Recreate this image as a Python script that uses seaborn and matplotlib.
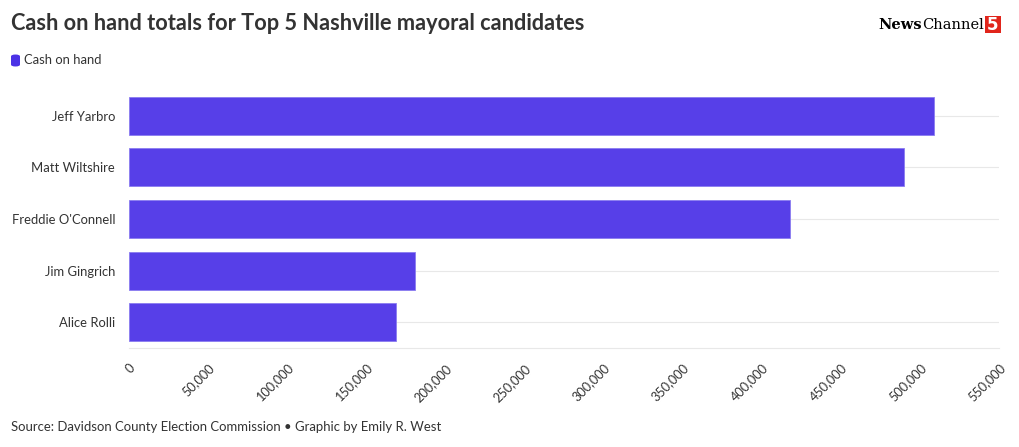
import matplotlib
matplotlib.use("Agg")
import matplotlib.pyplot as plt
import seaborn as sns
import pandas as pd
from matplotlib.patches import FancyBboxPatch, Rectangle

candidates = ["Jeff Yarbro", "Matt Wiltshire", "Freddie O'Connell", "Jim Gingrich", "Alice Rolli"]
cash_on_hand = [509000, 490000, 418000, 180500, 169000]
x_ticks = [0, 50000, 100000, 150000, 200000, 250000, 300000, 350000, 400000, 450000, 500000, 550000]
x_tick_labels = [f"{v:,}" for v in x_ticks]

df = pd.DataFrame({"candidate": candidates, "cash": cash_on_hand})

sns.set_theme(style="white")
plt.rcParams['font.family'] = ['Lato', 'DejaVu Sans']

BAR = "#573fe8"
TXT = "#333333"
GRID = "#e8e8e8"

fig = plt.figure(figsize=(10.2, 4.47), dpi=100)
ax = fig.add_axes([129/1020, 1 - 348/447, (999-129)/1020, (348-90)/447])

for i in range(len(candidates)):
    ax.axhline(i, color=GRID, lw=0.8, zorder=0)

sns.barplot(data=df, y="candidate", x="cash", orient="h", color=BAR,
            width=0.74, saturation=1, ax=ax, zorder=2, edgecolor="#8a7cf0", linewidth=0.6)

ax.set_xlim(0, 550000)
ax.set_ylim(4.5, -0.5)
ax.set_xticks(x_ticks)
ax.set_xticklabels(x_tick_labels, rotation=45, ha="right", va="top",
                   rotation_mode="anchor", fontsize=9.2, color=TXT)
ax.tick_params(axis="x", length=6, color=GRID, width=0.8, pad=4)
ax.tick_params(axis="y", length=0, pad=10, labelsize=9.4, labelcolor=TXT)
ax.set_xlabel("")
ax.set_ylabel("")
for s in ["top", "right", "left"]:
    ax.spines[s].set_visible(False)
ax.spines["bottom"].set_color(GRID)
ax.spines["bottom"].set_linewidth(0.8)

fig.text(11/1020, 1 - 24/447, "Cash on hand totals for Top 5 Nashville mayoral candidates",
         fontsize=15.7, fontweight="bold", color=TXT, va="center", ha="left")

# legend
fig.patches.append(FancyBboxPatch((11/1020, 1 - 66.5/447), 9/1020, 12/447,
                                  boxstyle="round,pad=0,rounding_size=0.0045",
                                  transform=fig.transFigure, facecolor="#4b32e6",
                                  edgecolor="none"))
fig.text(24/1020, 1 - 60.5/447, "Cash on hand", fontsize=9.4, color=TXT, va="center", ha="left")

# footer
fig.text(11/1020, 1 - 427/447, "Source: Davidson County Election Commission \u2022 Graphic by Emily R. West",
         fontsize=9.45, color=TXT, va="center", ha="left")

# logo
fig.patches.append(Rectangle((985/1020, 1 - 33/447), 16/1020, 17/447, transform=fig.transFigure,
                             facecolor="#e1251b", edgecolor="none"))
fig.text(993/1020, 1 - 24.5/447, "5", fontsize=12, fontweight="bold", family="DejaVu Sans",
         color="white", va="center", ha="center")
t_channel = fig.text(984/1020, 1 - 25/447, "Channel", fontsize=10.5, family="DejaVu Serif",
                     color="black", va="center", ha="right")
fig.canvas.draw()
bb = t_channel.get_window_extent(renderer=fig.canvas.get_renderer())
fig.text(bb.x0 / fig.bbox.width, 1 - 25/447, "News", fontsize=10.5, fontweight="bold",
         family="DejaVu Serif", color="black", va="center", ha="right")

fig.savefig("out.png", dpi=100, facecolor="white")
